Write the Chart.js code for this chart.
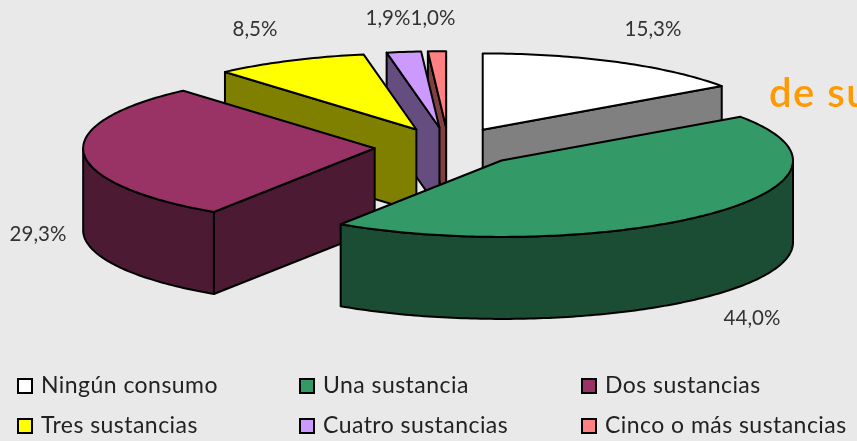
<!DOCTYPE html>
<html><head><meta charset="utf-8">
<script src="https://cdn.jsdelivr.net/npm/chart.js@4"></script>
<style>html,body{margin:0;padding:0;background:#e9e9e9;overflow:hidden}#w{position:relative;width:857px;height:441px}canvas{display:block}</style>
</head><body><div id="w"><canvas id="c" width="857" height="441"></canvas></div>
<script>
const categories = ["Ningún consumo","Una sustancia","Dos sustancias","Tres sustancias","Cuatro sustancias","Cinco o más sustancias"];
const values = [15.3,44.0,29.3,8.5,1.9,1.0];
const valueLabels = ["15,3%","44,0%","29,3%","8,5%","1,9%","1,0%"];
const topColors = ["#ffffff","#339966","#993366","#ffff00","#cc99ff","#ff8080"];
const sideColors = ["#808080","#1a4d33","#4d1a33","#808000","#664d80","#804040"];
const FONT = 'Lato, "Open Sans", sans-serif';
const TILT = 0.262, DEPTH = 82;
const drawOrder = [0,5,4,3,2,1];
const labelAnchors = [[653,29],[752,318],[38,234],[255,29],[388,18],[433,18]];
const legendCols = [18,300,582], legendRows = [386,426];

const pie3d = {
  id:'pie3d',
  beforeDatasetDraw(chart){
    const ctx = chart.ctx, arcs = chart.getDatasetMeta(0).data;
    const project = (arc,a,r,dz) => {
      const off = arc.options.offset, mid = (arc.startAngle+arc.endAngle)/2;
      const px = Math.cos(mid)*off + Math.cos(a)*r, py = Math.sin(mid)*off + Math.sin(a)*r;
      return [arc.x+px, arc.y+py*TILT+dz];
    };
    const trace = (arc,a0,a1,dz,first) => {
      const n = Math.max(2,Math.ceil(Math.abs(a1-a0)*60));
      for(let i=0;i<=n;i++){
        const p = project(arc,a0+(a1-a0)*i/n,arc.outerRadius,dz);
        if(i===0&&first) ctx.moveTo(p[0],p[1]); else ctx.lineTo(p[0],p[1]);
      }
    };
    ctx.save();
    ctx.lineWidth = 2; ctx.strokeStyle = '#000'; ctx.lineJoin = 'round';
    const paint = c => {ctx.closePath(); ctx.fillStyle=c; ctx.fill(); ctx.stroke();};
    const wall = (arc,a,c) => {
      const o = project(arc,a,0,0), e = project(arc,a,arc.outerRadius,0);
      ctx.beginPath(); ctx.moveTo(o[0],o[1]); ctx.lineTo(e[0],e[1]);
      ctx.lineTo(e[0],e[1]+DEPTH); ctx.lineTo(o[0],o[1]+DEPTH); paint(c);
    };
    for(const i of drawOrder){
      const arc = arcs[i], s = arc.startAngle, e = arc.endAngle, side = sideColors[i];
      if(Math.cos(s)<0) wall(arc,s,side);
      if(Math.cos(e)>0) wall(arc,e,side);
      const lo = Math.max(s,0), hi = Math.min(e,Math.PI);
      if(hi>lo){
        ctx.beginPath(); trace(arc,lo,hi,0,true); trace(arc,hi,lo,DEPTH,false); paint(side);
      }
      ctx.beginPath();
      const o = project(arc,s,0,0); ctx.moveTo(o[0],o[1]);
      trace(arc,s,e,0,false); paint(topColors[i]);
    }
    ctx.restore();
    return false;
  },
  afterDraw(chart){
    const ctx = chart.ctx;
    ctx.save();
    ctx.textBaseline='middle'; ctx.textAlign='center'; ctx.fillStyle='#333';
    ctx.font='20.5px '+FONT;
    valueLabels.forEach((t,i)=>ctx.fillText(t,labelAnchors[i][0],labelAnchors[i][1]));
    ctx.textAlign='left'; ctx.fillStyle='#ff9900'; ctx.font='600 40px '+FONT;
    ctx.letterSpacing='1.5px';
    ctx.fillText('de su',769,94);
    ctx.font='23px '+FONT;
    ctx.letterSpacing='0.45px';
    categories.forEach((t,i)=>{
      const x=legendCols[i%3], y=legendRows[Math.floor(i/3)];
      ctx.fillStyle=topColors[i]; ctx.strokeStyle='#000'; ctx.lineWidth=2;
      ctx.fillRect(x,y-7,14,14); ctx.strokeRect(x,y-7,14,14);
      ctx.fillStyle='#222'; ctx.fillText(t,x+23,y);
    });
    ctx.restore();
  }
};
new Chart(document.getElementById('c'),{
  type:'pie',
  data:{labels:categories,datasets:[{data:values,backgroundColor:topColors,borderColor:'#000',borderWidth:2,offset:74,radius:291.5,clip:false}]},
  options:{responsive:false,animation:false,
    layout:{padding:{left:40,right:0,top:0,bottom:147}},
    plugins:{legend:{display:false},tooltip:{enabled:false}}},
  plugins:[pie3d]
});
</script></body></html>
